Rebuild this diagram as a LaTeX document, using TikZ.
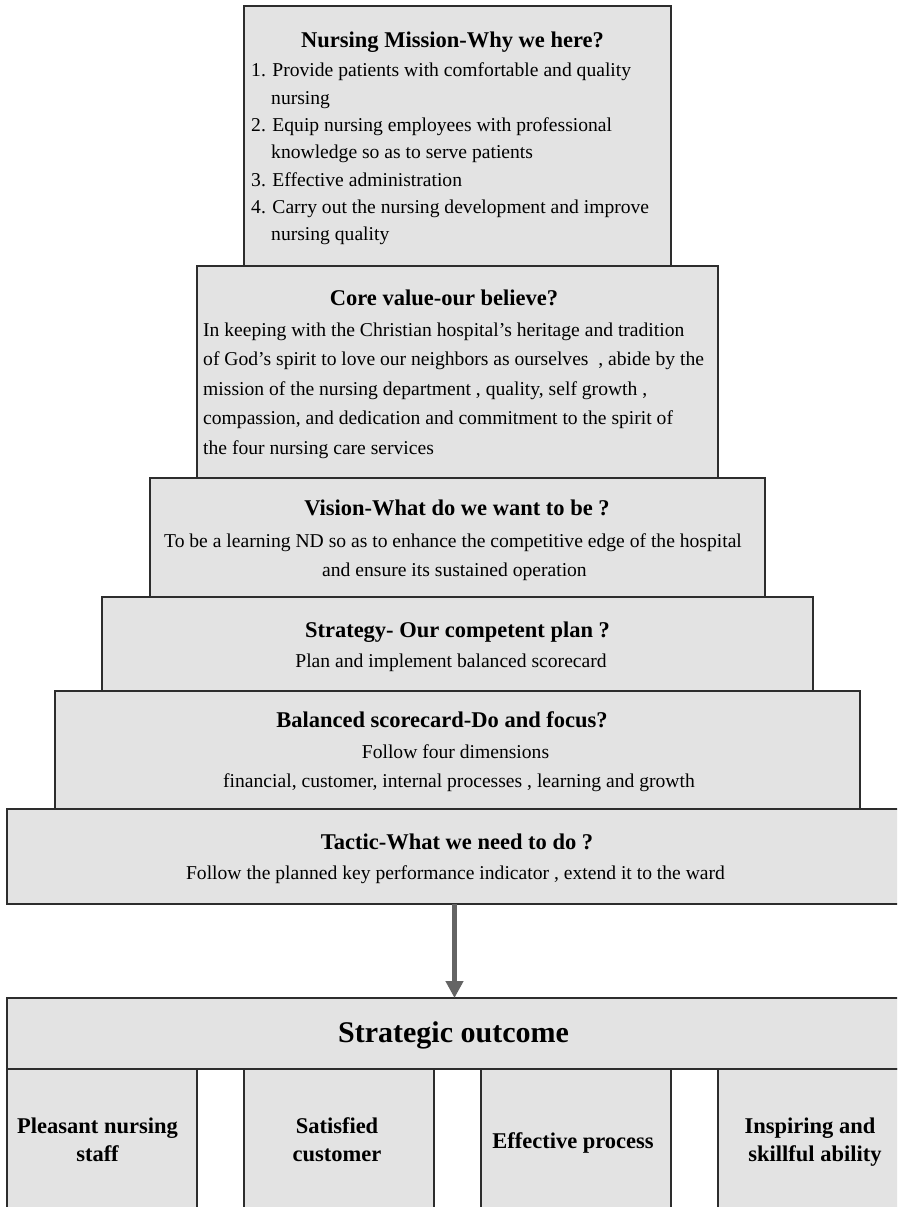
\documentclass[tikz,border=0pt]{standalone}
\usepackage{fontspec}
\setmainfont{Liberation Serif}
\usetikzlibrary{arrows.meta}
\definecolor{boxfill}{RGB}{227,227,227}
\definecolor{edgecol}{RGB}{45,45,45}
\definecolor{arrcol}{RGB}{100,100,100}
\tikzset{
  box/.style={draw=edgecol, fill=boxfill, line width=2pt, inner sep=0pt, outer sep=0pt, anchor=north west},
  ttl/.style={font=\fontsize{22.5}{27}\selectfont\bfseries, inner sep=0pt, anchor=base},
  txt/.style={font=\fontsize{19.6}{27}\selectfont, inner sep=0pt, anchor=base},
  txtl/.style={txt, anchor=base west},
  big/.style={font=\fontsize{30}{36}\selectfont\bfseries, inner sep=0pt, anchor=base},
  lab/.style={font=\fontsize{22.5}{28}\selectfont\bfseries, inner sep=0pt, anchor=base},
  arr/.style={draw=arrcol, line width=4.5pt, -{Triangle[length=17pt,width=17pt]}}
}
\begin{document}
\begin{tikzpicture}[x=1pt,y=-1pt]
\useasboundingbox (0,0) rectangle (897,1207);
\clip (0,0) rectangle (897,1207);
\fill[white] (0,0) rectangle (897,1207);
% pyramid boxes
\node[box, minimum width=427pt, minimum height=260pt] (mission) at (244,6) {};
\node[box, minimum width=521pt, minimum height=212pt] (core) at (197,266) {};
\node[box, minimum width=615pt, minimum height=119pt] (vision) at (150,478) {};
\node[box, minimum width=711pt, minimum height=94pt] (strategy) at (102,597) {};
\node[box, minimum width=805pt, minimum height=118pt] (balanced) at (55,691) {};
\node[box, minimum width=895pt, minimum height=95pt] (tactic) at (7,809) {};
\node[box, minimum width=895pt, minimum height=71pt] (outcome) at (7,998) {};
\node[box, minimum width=190pt, minimum height=150pt] (s1) at (7,1069) {};
\node[box, minimum width=190pt, minimum height=150pt] (s2) at (244,1069) {};
\node[box, minimum width=190pt, minimum height=150pt] (s3) at (481,1069) {};
\node[box, minimum width=190pt, minimum height=150pt] (s4) at (718,1069) {};
% arrow
\draw[arr] (tactic.south) -- (outcome.north);
% mission
\node[ttl] (mt) at (452.5,48) {Nursing Mission-Why we here?};
\node[txtl] (m1) at (251,77) {1. Provide patients with comfortable and quality};
\node[txtl] (m2) at (271,104) {nursing};
\node[txtl] (m3) at (251,131.5) {2. Equip nursing employees with professional};
\node[txtl] (m4) at (271,158.5) {knowledge so as to serve patients};
\node[txtl] (m5) at (251,186) {3. Effective administration};
\node[txtl] (m6) at (251,213) {4. Carry out the nursing development and improve};
\node[txtl] (m7) at (271,240) {nursing quality};
% core value
\node[ttl] (ct) at (444,305) {Core value-our believe?};
\node[txtl] (c1) at (203,336) {In keeping with the Christian hospital’s heritage and tradition};
\node[txtl] (c2) at (203,365.5) {of God’s spirit to love our neighbors as ourselves\ \ , abide by the};
\node[txtl] (c3) at (203,395) {mission of the nursing department\ , quality, self growth ,};
\node[txtl] (c4) at (203,424.5) {compassion, and dedication and commitment to the spirit of};
\node[txtl] (c5) at (203,454) {the four nursing care services};
% vision
\node[ttl] (vt) at (457,515) {Vision-What do we want to be ?};
\node[txt] (v1) at (453,547) {To be a learning ND so as to enhance the competitive edge of the hospital};
\node[txt] (v2) at (454.5,576) {and ensure its sustained operation};
% strategy
\node[ttl] (st) at (457.5,637) {Strategy- Our competent plan ?};
\node[txt] (s1t) at (451,667) {Plan and implement balanced scorecard};
% balanced
\node[ttl] (bt) at (442,727) {Balanced scorecard-Do and focus?};
\node[txt] (b1) at (455.5,758) {Follow four dimensions};
\node[txt] (b2) at (459,787) {financial, customer, internal processes , learning and growth};
% tactic
\node[ttl] (tt) at (457,849) {Tactic-What we need to do ?};
\node[txt] (t1) at (455.5,879) {Follow the planned key performance indicator , extend it to the ward};
% outcome
\node[big] (ot) at (453.5,1042) {Strategic outcome};
\node[lab] (p1) at (97.5,1133) {Pleasant nursing};
\node[lab] (p2) at (97.5,1161) {staff};
\node[lab] (q1) at (337,1133) {Satisfied};
\node[lab] (q2) at (337,1161) {customer};
\node[lab] (e1) at (573,1148) {Effective process};
\node[lab] (i1) at (810,1133) {Inspiring and};
\node[lab] (i2) at (815,1161) {skillful ability};
\end{tikzpicture}
\end{document}
